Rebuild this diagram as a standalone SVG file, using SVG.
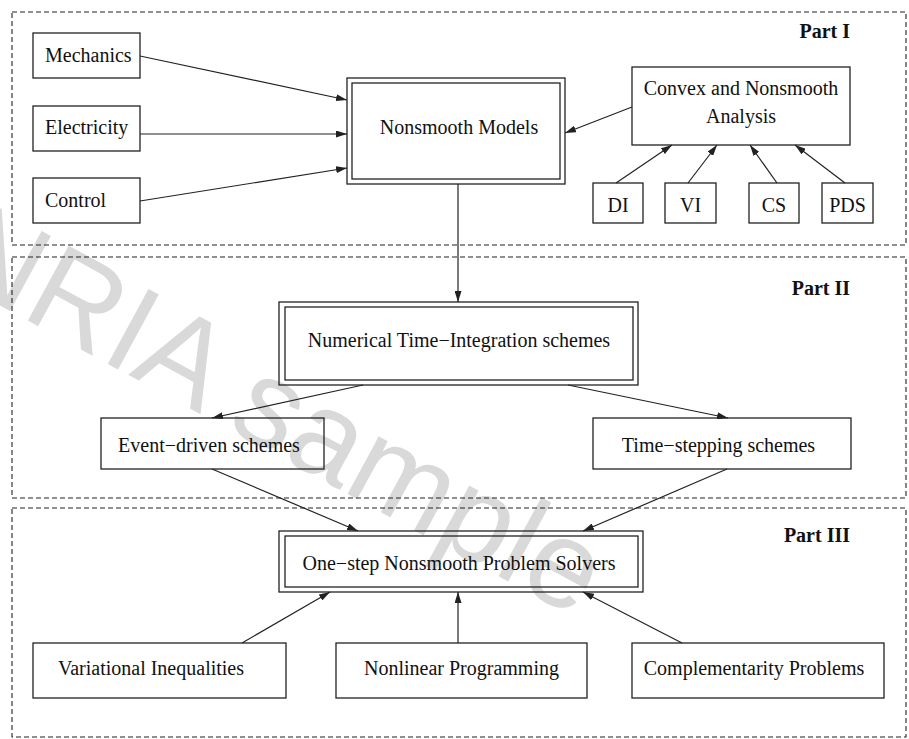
<svg xmlns="http://www.w3.org/2000/svg" width="909" height="739" viewBox="0 0 909 739">
<style>
.bg{fill:#ffffff}
.part{fill:none;stroke:#222;stroke-width:1.1;stroke-dasharray:5,3}
.box{fill:none;stroke:#222;stroke-width:1.3}
.t{font-family:"Liberation Serif","Times New Roman",serif;font-size:20px;fill:#111}
.m{text-anchor:middle}
.lbl{font-family:"Liberation Serif","Times New Roman",serif;font-size:20px;font-weight:bold;fill:#111;text-anchor:end}
.edge{fill:none;stroke:#222;stroke-width:1.2;marker-end:url(#arr)}
.wm{font-family:"Liberation Sans",Arial,sans-serif;font-size:124px;fill:#d9d9d9}
</style>
<defs>
<marker id="arr" markerWidth="11" markerHeight="7" refX="11" refY="3.5" orient="auto" markerUnits="userSpaceOnUse">
<path d="M0,0 L11,3.5 L0,7 z" fill="#222"/>
</marker>
</defs>
<rect class="bg" x="0" y="0" width="909" height="739"/>
<text class="wm" transform="translate(-90,256.5) rotate(28.5)">INRIA sample</text>

<g id="part1"><rect class="part" x="12" y="12" width="894" height="233"/><text class="lbl" x="850" y="38">Part I</text></g>
<g id="part2"><rect class="part" x="12" y="257" width="894" height="241"/><text class="lbl" x="850" y="295">Part II</text></g>
<g id="part3"><rect class="part" x="12" y="508" width="894" height="229"/><text class="lbl" x="850" y="542">Part III</text></g>

<g id="mechanics"><rect class="box" x="33" y="33" width="107" height="45"/><text class="t" x="45" y="62">Mechanics</text></g>
<g id="electricity"><rect class="box" x="33" y="106" width="107" height="45"/><text class="t" x="45" y="134">Electricity</text></g>
<g id="control"><rect class="box" x="33" y="178" width="107" height="45"/><text class="t" x="45" y="207">Control</text></g>
<g id="nonsmooth-models"><rect class="box" x="347" y="78" width="218" height="106"/><rect class="box" x="352" y="83" width="208" height="96"/><text class="t m" x="459" y="134">Nonsmooth Models</text></g>
<g id="convex"><rect class="box" x="632" y="67" width="218" height="78"/><text class="t m" x="741" y="95">Convex and Nonsmooth</text><text class="t m" x="741" y="123">Analysis</text></g>
<g id="di"><rect class="box" x="593" y="183" width="50" height="40"/><text class="t m" x="618" y="212">DI</text></g>
<g id="vi"><rect class="box" x="665" y="183" width="51" height="40"/><text class="t m" x="690.5" y="212">VI</text></g>
<g id="cs"><rect class="box" x="749" y="183" width="50" height="40"/><text class="t m" x="774" y="212">CS</text></g>
<g id="pds"><rect class="box" x="822" y="183" width="51" height="40"/><text class="t m" x="847.5" y="212">PDS</text></g>

<g id="numerical"><rect class="box" x="279" y="302" width="359" height="83"/><rect class="box" x="285" y="307" width="348" height="73"/><text class="t m" x="459" y="347">Numerical Time−Integration schemes</text></g>
<g id="event-driven"><rect class="box" x="101" y="418" width="223" height="51"/><text class="t m" x="209" y="452">Event−driven schemes</text></g>
<g id="time-stepping"><rect class="box" x="593" y="418" width="258" height="51"/><text class="t m" x="718.5" y="452">Time−stepping schemes</text></g>

<g id="one-step"><rect class="box" x="279" y="531" width="364" height="61"/><rect class="box" x="285" y="536" width="353" height="51"/><text class="t m" x="459" y="570">One−step Nonsmooth Problem Solvers</text></g>
<g id="variational"><rect class="box" x="33" y="643" width="253" height="55"/><text class="t m" x="151" y="675">Variational Inequalities</text></g>
<g id="nonlinear"><rect class="box" x="336" y="643" width="251" height="55"/><text class="t m" x="461.5" y="675">Nonlinear Programming</text></g>
<g id="complementarity"><rect class="box" x="632" y="643" width="252" height="55"/><text class="t m" x="754" y="675">Complementarity Problems</text></g>

<g id="connectors">
<line class="edge" x1="140" y1="56" x2="347" y2="100"/>
<line class="edge" x1="140" y1="134" x2="347" y2="134"/>
<line class="edge" x1="140" y1="201" x2="347" y2="168"/>
<line class="edge" x1="632" y1="107" x2="565" y2="133"/>
<line class="edge" x1="616" y1="183" x2="672" y2="145"/>
<line class="edge" x1="688" y1="183" x2="717" y2="145"/>
<line class="edge" x1="777" y1="183" x2="750" y2="145"/>
<line class="edge" x1="845" y1="183" x2="795" y2="145"/>
<line class="edge" x1="458" y1="184" x2="458" y2="302"/>
<line class="edge" x1="363" y1="385" x2="212" y2="418"/>
<line class="edge" x1="568" y1="385" x2="728" y2="418"/>
<line class="edge" x1="212" y1="469" x2="358" y2="531"/>
<line class="edge" x1="727" y1="469" x2="583" y2="531"/>
<line class="edge" x1="242" y1="643" x2="330" y2="592"/>
<line class="edge" x1="458" y1="643" x2="458" y2="592"/>
<line class="edge" x1="682" y1="643" x2="583" y2="592"/>
</g>
</svg>
